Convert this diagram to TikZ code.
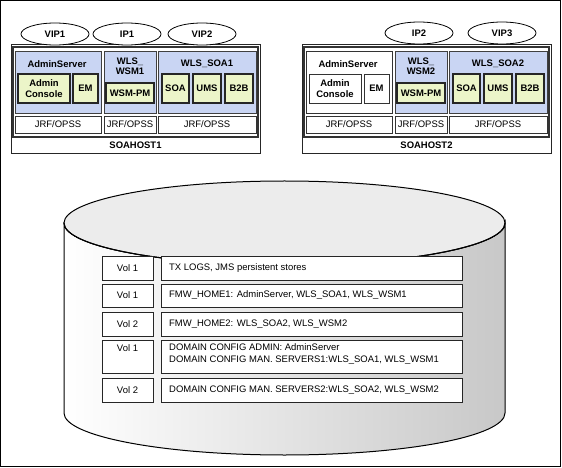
\documentclass[tikz,border=0pt]{standalone}
\usepackage{fontspec}
\setmainfont{Liberation Sans}
\usetikzlibrary{shapes.geometric}
\definecolor{srvblue}{RGB}{201,213,243}
\definecolor{appgreen}{RGB}{236,245,201}
\definecolor{disktop}{RGB}{236,236,236}
\definecolor{diskside}{RGB}{200,200,200}
\tikzset{
  hostframe/.style={draw=black!85, line width=0.8bp, fill=white},
  innerframe/.style={draw=black!80, line width=1.6bp},
  srv/.style={draw=black!75, line width=0.9bp, fill=srvblue},
  idle/.style={draw=black!80, line width=0.9bp, fill=white},
  app/.style={draw=black!85, line width=1.1bp, fill=appgreen},
  jrf/.style={draw=black!80, line width=0.9bp, fill=white},
  vip/.style={draw=black, ellipse, fill=white, line width=0.8bp, minimum width=68bp, minimum height=22bp, inner sep=0pt, font=\fontsize{9.5}{10}\selectfont\bfseries},
  lbl/.style={font=\fontsize{9.5}{10.5}\selectfont\bfseries, align=center, inner sep=0pt},
  plain/.style={font=\fontsize{9.5}{10}\selectfont, inner sep=0pt},
  vol/.style={draw=black!85, line width=0.9bp, fill=white},
  voltxt/.style={font=\fontsize{9.5}{11.5}\selectfont, inner sep=0pt, align=left}
}
\begin{document}
\begin{tikzpicture}[x=1bp,y=-1bp]
\useasboundingbox (0,0) rectangle (562,468);
\draw[line width=1bp] (0.5,0.5) rectangle (560.5,466.5);

% SOAHOST1
\draw[hostframe] (11,44) rectangle (260,153);
\draw[innerframe] (13,47) rectangle (258,137);
\draw[srv] (15,51) rectangle (101,113);
\draw[app] (18,74) rectangle (70,103);
\draw[app] (73,74) rectangle (98,103);
\draw[srv] (104,51) rectangle (156,113);
\draw[app] (106,83) rectangle (154,103);
\draw[srv] (158,51) rectangle (256,113);
\draw[app] (162,74) rectangle (189,103);
\draw[app] (193,74) rectangle (221,103);
\draw[app] (225,74) rectangle (253,103);
\draw[jrf] (15,116) rectangle (101,133);
\draw[jrf] (104,116) rectangle (156,133);
\draw[jrf] (158,116) rectangle (256,133);

\draw (57,64) node[lbl] (adm1) {AdminServer};
\draw (44,88.5) node[lbl] (con1) {Admin\\Console};
\draw (85.5,88.5) node[lbl] (em1) {EM};
\draw (130,66) node[lbl] (wsm1) {WLS\_\\WSM1};
\draw (130,93) node[lbl] (pm1) {WSM-PM};
\draw (207,64) node[lbl] (soaserv1) {WLS\_SOA1};
\draw (175.5,88.5) node[lbl] (soa1) {SOA};
\draw (207,88.5) node[lbl] (ums1) {UMS};
\draw (239,88.5) node[lbl] (btb1) {B2B};
\draw (58,124.5) node[plain] (jrfa1) {JRF/OPSS};
\draw (130,124.5) node[plain] (jrfb1) {JRF/OPSS};
\draw (207,124.5) node[plain] (jrfc1) {JRF/OPSS};
\draw (135.5,145) node[lbl] (host1) {SOAHOST1};

\node[vip] (vip1) at (55,34) {VIP1};
\node[vip] (ip1) at (127,34) {IP1};
\node[vip] (vip2) at (202,34) {VIP2};

% SOAHOST2
\draw[hostframe] (302,44) rectangle (551,153);
\draw[innerframe] (304,47) rectangle (549,137);
\draw[idle] (306,51) rectangle (392,113);
\draw[idle] (309,74) rectangle (361,103);
\draw[idle] (364,74) rectangle (389,103);
\draw[srv] (395,51) rectangle (447,113);
\draw[app] (397,83) rectangle (445,103);
\draw[srv] (449,51) rectangle (547,113);
\draw[app] (453,74) rectangle (480,103);
\draw[app] (484,74) rectangle (512,103);
\draw[app] (516,74) rectangle (544,103);
\draw[jrf] (306,116) rectangle (392,133);
\draw[jrf] (395,116) rectangle (447,133);
\draw[jrf] (449,116) rectangle (547,133);

\draw (348,64) node[lbl] (adm2) {AdminServer};
\draw (335,88.5) node[lbl] (con2) {Admin\\Console};
\draw (376.5,88.5) node[lbl] (em2) {EM};
\draw (421,66) node[lbl] (wsm2) {WLS\_\\WSM2};
\draw (421,93) node[lbl] (pm2) {WSM-PM};
\draw (498,64) node[lbl] (soaserv2) {WLS\_SOA2};
\draw (466.5,88.5) node[lbl] (soa2) {SOA};
\draw (498,88.5) node[lbl] (ums2) {UMS};
\draw (530,88.5) node[lbl] (btb2) {B2B};
\draw (349,124.5) node[plain] (jrfa2) {JRF/OPSS};
\draw (421,124.5) node[plain] (jrfb2) {JRF/OPSS};
\draw (498,124.5) node[plain] (jrfc2) {JRF/OPSS};
\draw (426.5,145) node[lbl] (host2) {SOAHOST2};

\node[vip] (ip2) at (419,33) {IP2};
\node[vip] (vip3) at (502,33) {VIP3};

% shared disk
\draw[line width=1bp, left color=white, middle color=white, right color=diskside]
  (64,223) -- (64,413) arc[start angle=180, end angle=360, x radius=220.5bp, y radius=42bp]
  -- (505,223) arc[start angle=0, end angle=-180, x radius=220.5bp, y radius=42bp] -- cycle;
\draw[line width=1bp, fill=disktop] (284.5,223) ellipse[x radius=220.5bp, y radius=42bp];
\draw[line width=1bp] (505,223) arc[start angle=0, end angle=-180, x radius=220.5bp, y radius=42bp];

\draw[vol] (102,256) rectangle (153,280);
\draw[vol] (161,256) rectangle (462,280);
\draw[vol] (102,284) rectangle (153,307);
\draw[vol] (161,284) rectangle (462,307);
\draw[vol] (102,312) rectangle (153,336);
\draw[vol] (161,312) rectangle (462,336);
\draw[vol] (102,340) rectangle (153,373);
\draw[vol] (161,340) rectangle (462,373);
\draw[vol] (102,378) rectangle (153,402);
\draw[vol] (161,378) rectangle (462,402);

\draw (127.5,268) node[voltxt] (vola) {Vol 1};
\draw (127.5,295.5) node[voltxt] (volb) {Vol 1};
\draw (127.5,324) node[voltxt] (volc) {Vol 2};
\draw (127.5,348) node[voltxt] (vold) {Vol 1};
\draw (127.5,390) node[voltxt] (vole) {Vol 2};
\draw (169,268) node[voltxt, anchor=west] (logs) {TX LOGS, JMS persistent stores};
\draw (169,295.5) node[voltxt, anchor=west] (homea) {FMW\_HOME1: AdminServer, WLS\_SOA1, WLS\_WSM1};
\draw (169,324) node[voltxt, anchor=west] (homeb) {FMW\_HOME2: WLS\_SOA2, WLS\_WSM2};
\draw (169,354) node[voltxt, anchor=west] (cfga) {DOMAIN CONFIG ADMIN: AdminServer\\DOMAIN CONFIG MAN. SERVERS1:WLS\_SOA1, WLS\_WSM1};
\draw (169,390) node[voltxt, anchor=west] (cfgb) {DOMAIN CONFIG MAN. SERVERS2:WLS\_SOA2, WLS\_WSM2};

\end{tikzpicture}
\end{document}
